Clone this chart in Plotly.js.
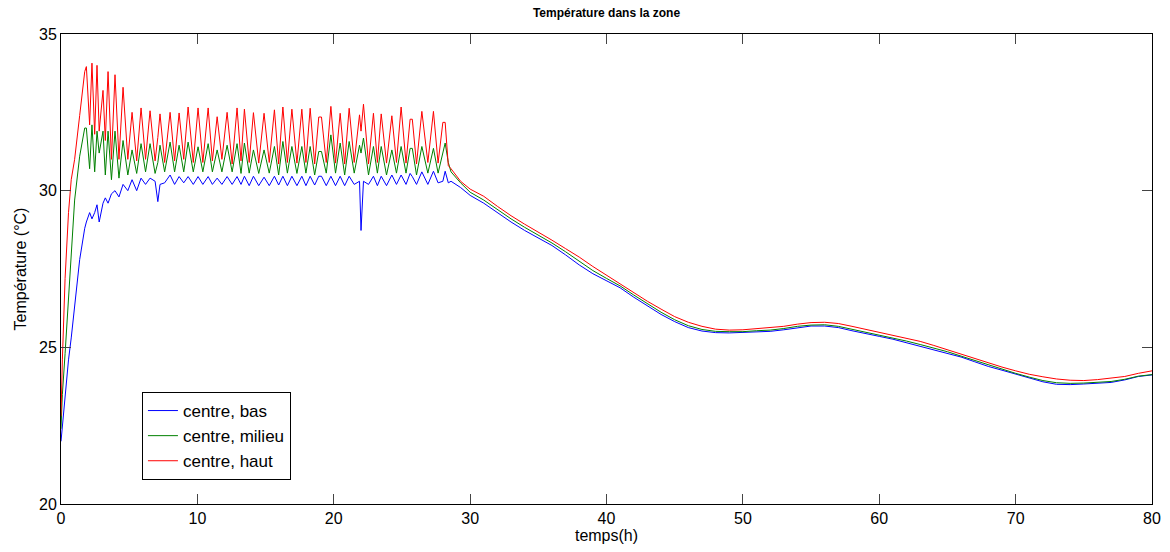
<!DOCTYPE html>
<html>
<head>
<meta charset="utf-8">
<script src="https://cdn.plot.ly/plotly-3.0.1.min.js"></script>
<style>html,body{margin:0;padding:0;background:#fff;}#chart{width:1170px;height:552px;}</style>
</head>
<body>
<div id="chart"></div>
<script>
// time (h)
const temps = [
  0, 0.1, 0.3, 0.55, 0.75, 1.0, 1.37, 1.74, 1.86, 2.1,
  2.27, 2.47, 2.64, 2.8, 3.08, 3.25, 3.45, 3.7, 3.96, 4.25,
  4.55, 4.9, 5.21, 5.55, 5.87, 6.2, 6.53, 6.9, 7.1, 7.26,
  7.6, 8.0, 8.33, 8.66, 9.0, 9.32, 9.7, 10.05, 10.4, 10.79,
  11.1, 11.45, 11.8, 12.18, 12.55, 12.91, 13.2, 13.45, 13.8, 14.11,
  14.5, 14.89, 15.27, 15.65, 15.96, 16.27, 16.6, 16.93, 17.3, 17.66,
  17.96, 18.27, 18.6, 18.9, 19.1, 19.45, 19.79, 20.13, 20.47, 20.8,
  21.13, 21.5, 21.89, 22.0, 22.18, 22.55, 22.91, 23.2, 23.48, 23.87,
  24.26, 24.6, 24.94, 25.3, 25.6, 25.76, 26.07, 26.46, 26.9, 27.31,
  27.65, 28.0, 28.17, 28.4, 28.6, 29.3, 30, 31, 32, 33,
  34, 35, 36, 37, 38, 39, 40, 41, 42, 43,
  44, 45, 46, 47, 48, 49, 50, 51, 52, 53,
  54, 55, 56, 57, 58, 59, 60, 61, 62, 63,
  64, 65, 66, 67, 68, 69, 70, 71, 72, 73,
  74, 75, 76, 77, 78, 79, 80
];

const centreBas = [
  22.0, 22.5, 23.6, 24.6, 25.3, 26.4, 27.8, 28.8, 29.0, 29.3,
  29.1, 29.3, 29.55, 29.0, 29.6, 29.77, 29.6, 29.9, 30.0, 29.8,
  30.2, 30.0, 30.35, 30.0, 30.4, 30.2, 30.4, 30.3, 29.65, 30.2,
  30.25, 30.5, 30.2, 30.45, 30.25, 30.45, 30.2, 30.45, 30.2, 30.45,
  30.2, 30.4, 30.2, 30.45, 30.2, 30.45, 30.2, 30.46, 30.16, 30.46,
  30.16, 30.43, 30.16, 30.46, 30.18, 30.46, 30.16, 30.46, 30.16, 30.46,
  30.16, 30.46, 30.18, 30.46, 30.46, 30.16, 30.46, 30.16, 30.46, 30.16,
  30.46, 30.2, 30.3, 28.73, 30.3, 30.2, 30.46, 30.16, 30.46, 30.16,
  30.5, 30.2, 30.5, 30.2, 30.55, 30.45, 30.2, 30.6, 30.2, 30.62,
  30.25, 30.3, 30.62, 30.25, 30.3, 30.1, 29.85, 29.6, 29.3, 29.0,
  28.73, 28.5, 28.25, 27.95, 27.63, 27.35, 27.12, 26.9, 26.6, 26.32,
  26.05, 25.82, 25.63, 25.52, 25.47, 25.46, 25.47, 25.49, 25.51, 25.56,
  25.63, 25.68, 25.68, 25.63, 25.53, 25.43, 25.35, 25.26, 25.15, 25.04,
  24.93, 24.82, 24.69, 24.54, 24.39, 24.27, 24.14, 24.02, 23.9, 23.82,
  23.81, 23.83, 23.85, 23.88, 23.96, 24.07, 24.12
];

const centreMilieu = [
  22.4, 23.5, 24.8, 26.6, 28.2, 29.7, 31.1, 32.0, 32.0, 30.7,
  32.1, 30.6, 31.9, 31.2, 31.9, 30.5, 31.9, 30.35, 31.9, 30.4,
  31.6, 30.5, 31.3, 30.55, 31.5, 30.6, 31.5, 30.55, 30.9, 31.45,
  30.6, 31.55, 30.6, 31.45, 30.6, 31.55, 30.6, 31.4, 30.6, 31.5,
  30.6, 31.3, 30.6, 31.45, 30.6, 31.5, 30.55, 31.52, 30.56, 31.3,
  30.55, 31.3, 30.56, 31.41, 30.5, 31.57, 30.56, 31.41, 30.55, 31.41,
  30.56, 31.41, 30.5, 31.25, 31.25, 30.56, 31.78, 30.56, 31.52, 30.5,
  31.57, 30.56, 31.45, 31.2, 31.68, 30.5, 31.41, 30.56, 31.41, 30.5,
  31.3, 30.56, 31.41, 30.56, 31.35, 31.35, 30.5, 31.41, 30.56, 31.35,
  30.56, 31.2, 31.52, 30.9, 30.6, 30.25, 29.95, 29.7, 29.4, 29.1,
  28.83, 28.59, 28.33, 28.05, 27.74, 27.45, 27.2, 26.96, 26.67, 26.39,
  26.12, 25.88, 25.69, 25.57, 25.51, 25.5, 25.5, 25.53, 25.55, 25.6,
  25.67, 25.71, 25.72, 25.67, 25.58, 25.48, 25.39, 25.3, 25.2, 25.09,
  24.98, 24.86, 24.72, 24.58, 24.43, 24.3, 24.17, 24.05, 23.94, 23.87,
  23.85, 23.86, 23.88, 23.91, 23.98, 24.08, 24.13
];

const centreHaut = [
  22.8, 24.6, 27.2, 29.3, 30.35, 31.0, 32.4, 33.8, 33.96, 32.1,
  34.07, 31.8, 34.0, 31.9, 33.2, 31.6, 33.8, 31.0, 33.7, 31.0,
  33.3, 31.0, 32.5, 30.95, 32.64, 31.0, 32.55, 30.95, 31.7, 32.45,
  30.9, 32.5, 30.95, 32.48, 31.0, 32.67, 30.9, 32.64, 30.9, 32.64,
  30.95, 32.36, 31.0, 32.5, 30.85, 32.64, 30.95, 32.6, 30.9, 32.49,
  30.88, 32.47, 30.9, 32.58, 30.85, 32.67, 30.9, 32.6, 30.88, 32.6,
  30.9, 32.63, 30.85, 32.35, 32.35, 30.9, 32.69, 30.88, 32.47, 30.85,
  32.63, 30.9, 32.42, 31.9, 32.76, 30.85, 32.47, 30.9, 32.45, 30.88,
  32.39, 30.9, 32.67, 30.88, 32.28, 32.28, 30.85, 32.53, 30.9, 32.53,
  30.88, 32.18, 32.18, 30.8, 30.7, 30.3, 30.05, 29.82, 29.5, 29.2,
  28.93, 28.68, 28.42, 28.15, 27.88, 27.58, 27.3, 27.02, 26.74, 26.47,
  26.22, 25.98, 25.8, 25.67, 25.58, 25.55, 25.56, 25.6, 25.62, 25.67,
  25.74, 25.79, 25.8, 25.76, 25.67, 25.57, 25.47, 25.37, 25.28, 25.19,
  25.06, 24.92, 24.78, 24.63, 24.5, 24.37, 24.25, 24.14, 24.06, 23.99,
  23.95, 23.94, 23.97, 24.01, 24.07, 24.17, 24.25
];

const seriesNames = ['centre, bas', 'centre, milieu', 'centre, haut'];
const seriesColors = ['#0000ff', '#008000', '#ff0000'];
const xTicks = [0, 10, 20, 30, 40, 50, 60, 70, 80];
const yTicks = [20, 25, 30, 35];

const allSeries = [centreBas, centreMilieu, centreHaut];
const traces = allSeries.map((vals, i) => ({
  x: temps, y: vals, type: 'scatter', mode: 'lines',
  name: seriesNames[i],
  line: {color: seriesColors[i], width: 1}
}));

const axisCommon = {
  showgrid: false, zeroline: false, showline: true, linecolor: '#000', linewidth: 1,
  mirror: 'ticks', ticks: 'inside', ticklen: 10, tickcolor: '#444', tickwidth: 1,
  tickfont: {size: 16, color: '#000'}
};

const layout = {
  width: 1170, height: 552,
  margin: {l: 61, r: 18, t: 34, b: 48},
  paper_bgcolor: '#fff', plot_bgcolor: '#fff',
  font: {family: '"Liberation Sans", Arial, sans-serif', color: '#000', size: 16},
  title: {text: '<b>Température dans la zone</b>', font: {size: 12, color: '#000'},
          x: 0.5, xref: 'paper', xanchor: 'center', y: 1 - 13/552, yref: 'container', yanchor: 'middle'},
  xaxis: Object.assign({}, axisCommon, {range: [0, 80], tickvals: xTicks,
    title: {text: 'temps(h)', font: {size: 16}, standoff: 2}}),
  yaxis: Object.assign({}, axisCommon, {range: [20, 35], tickvals: yTicks,
    title: {text: 'Température (°C)', font: {size: 16}, standoff: 8}}),
  showlegend: true,
  legend: {x: 0.0742, y: 0.2383, xanchor: 'left', yanchor: 'top', bgcolor: '#fff',
           bordercolor: '#000', borderwidth: 1, font: {size: 17}, tracegroupgap: 0}
};

Plotly.newPlot('chart', traces, layout, {displayModeBar: false, staticPlot: true});
</script>
</body>
</html>
